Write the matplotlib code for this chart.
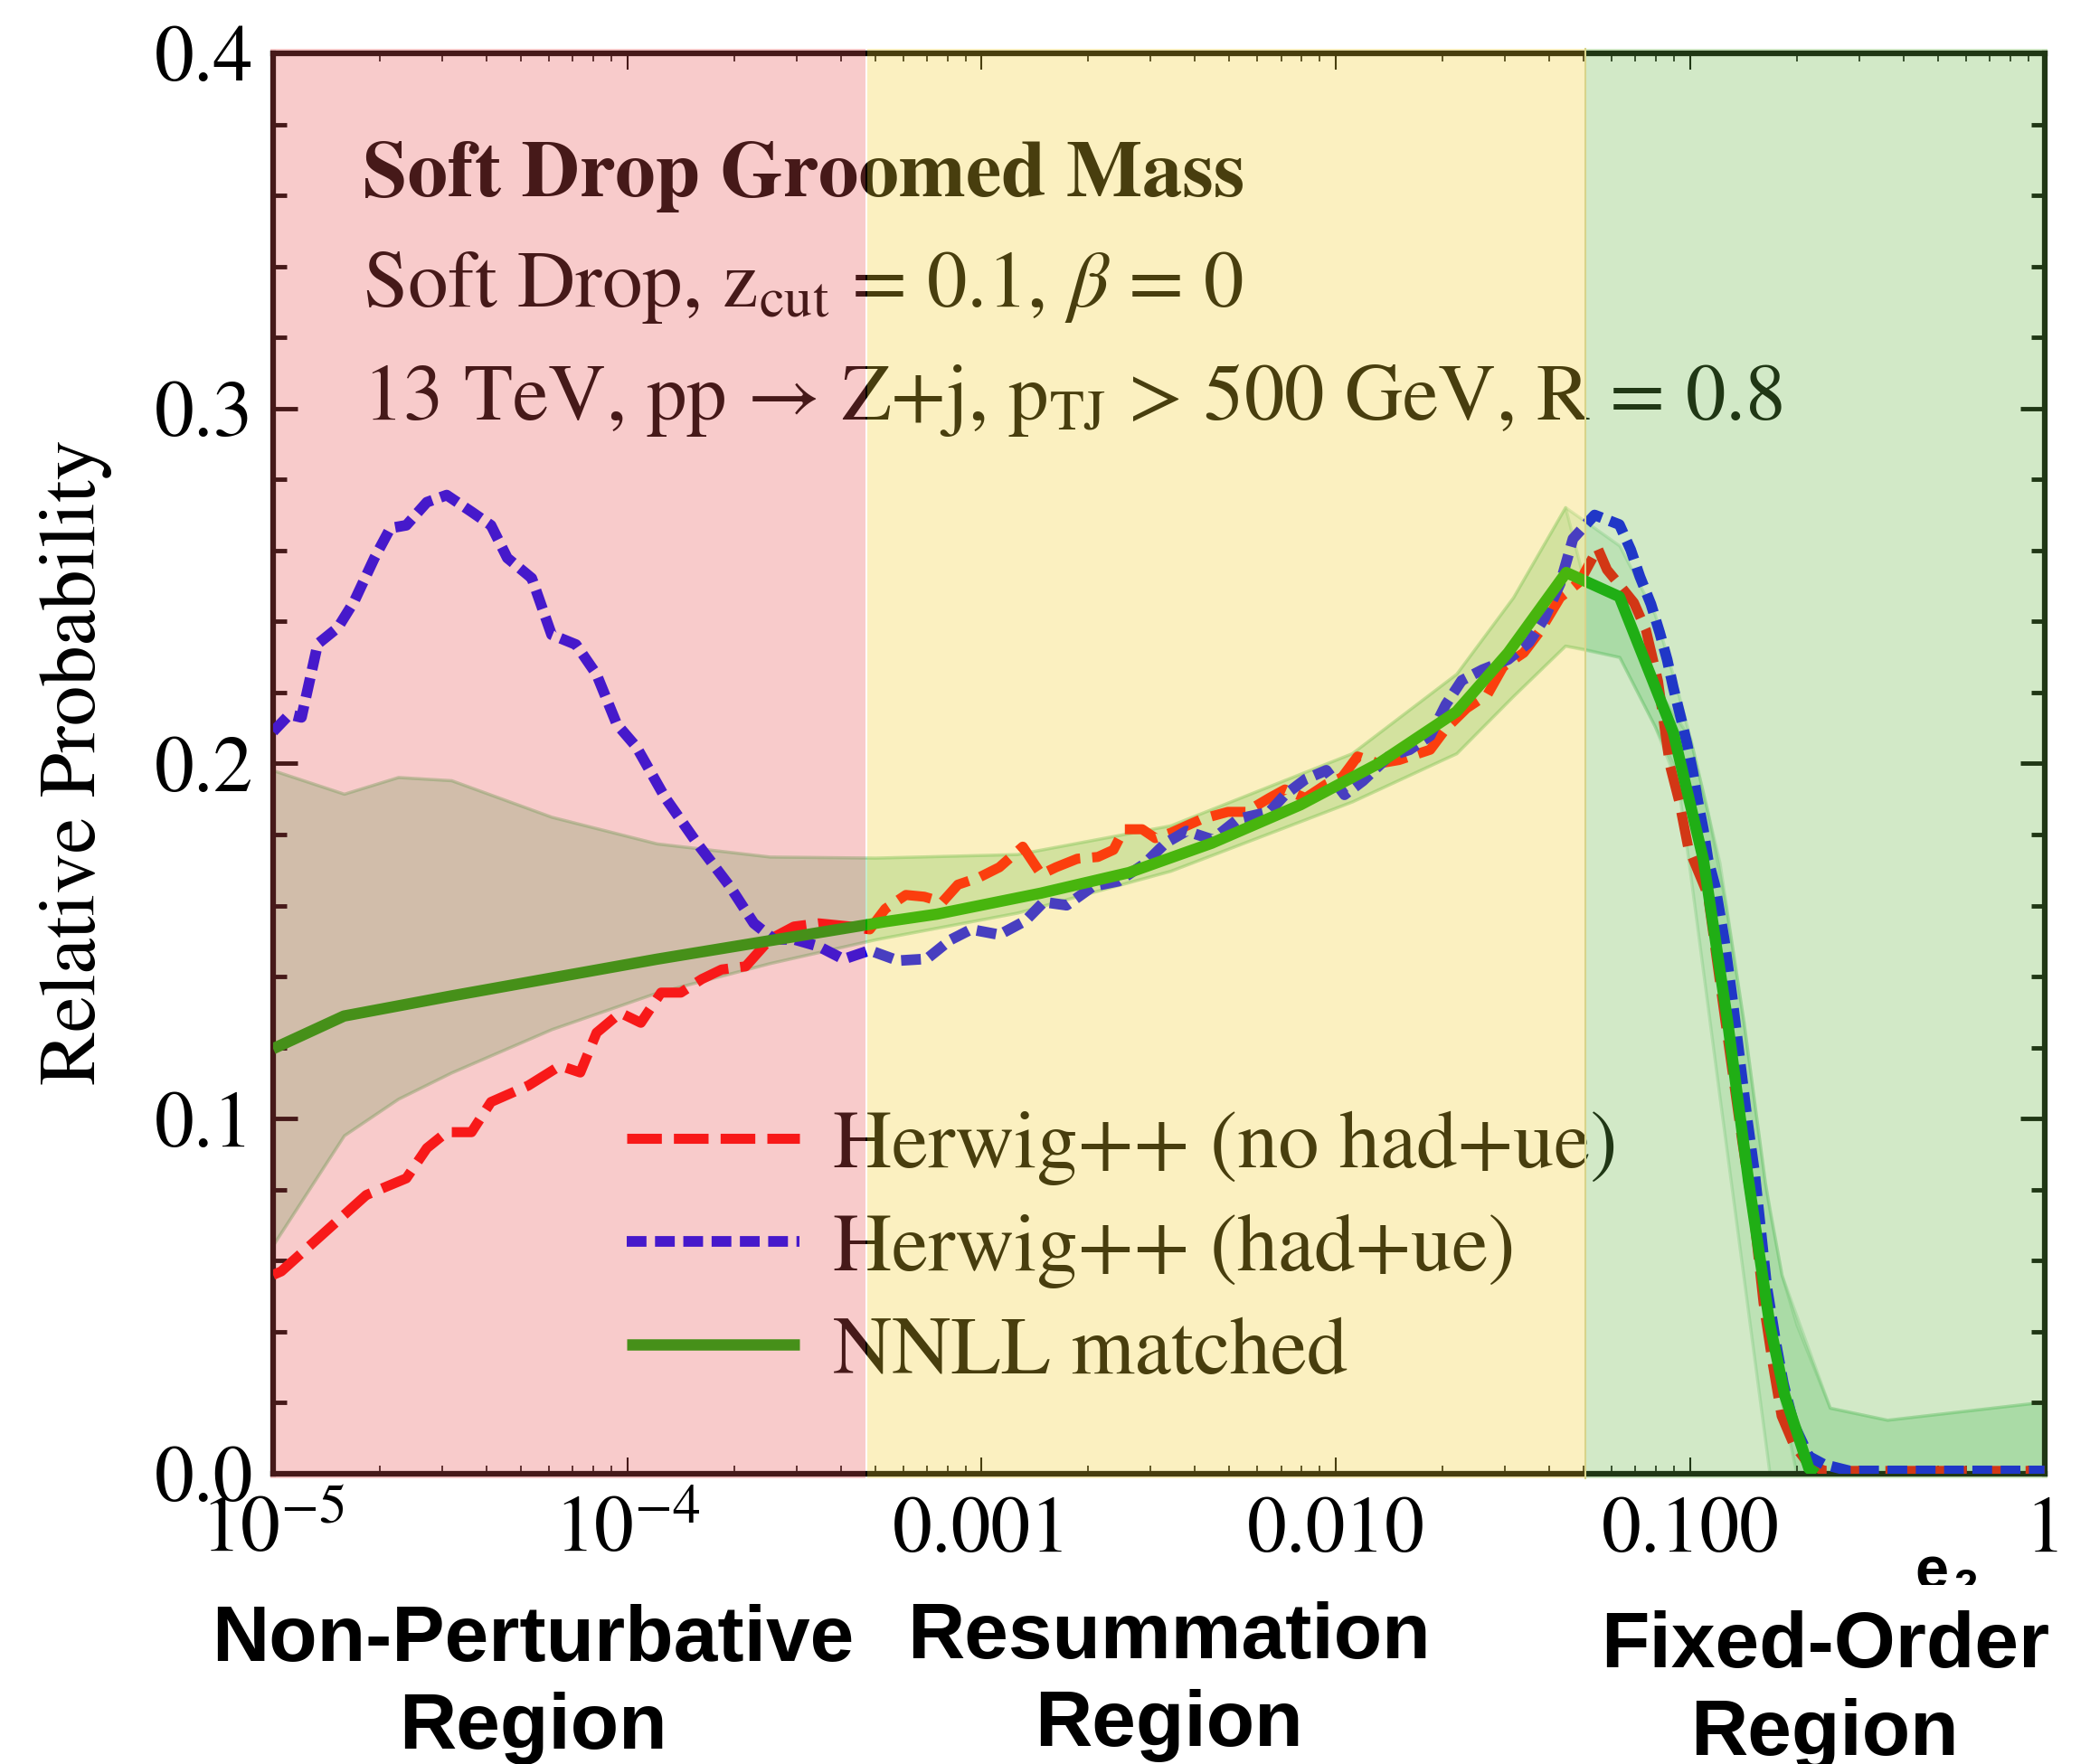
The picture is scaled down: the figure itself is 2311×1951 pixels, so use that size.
import numpy as np
import matplotlib
matplotlib.use("Agg")
import matplotlib.pyplot as plt
from matplotlib.ticker import (FixedLocator, FixedFormatter, MultipleLocator,
                               LogLocator, NullFormatter, FormatStrFormatter)

plt.rcParams['font.family'] = ['STIXGeneral', 'DejaVu Serif']
plt.rcParams['mathtext.fontset'] = 'stix'

# ---------------------------------------------------------------- data
# positions are log10(e2)
red_lx = [-5.0, -4.977, -4.862, -4.737, -4.624, -4.566, -4.51, -4.44, -4.385, -4.28,
          -4.19, -4.133, -4.087, -4.02, -3.962, -3.905, -3.849, -3.79, -3.734, -3.666,
          -3.598, -3.53, -3.46, -3.37, -3.316, -3.272, -3.214, -3.162, -3.111, -3.067,
          -3.008, -2.95, -2.884, -2.832, -2.79, -2.73, -2.672, -2.628, -2.598, -2.547,
          -2.51, -2.466, -2.378, -2.305, -2.254, -2.188, -2.144, -2.086, -2.027, -1.983,
          -1.939, -1.88, -1.822, -1.734, -1.69, -1.631, -1.572, -1.528, -1.47, -1.426,
          -1.367, -1.354, -1.312, -1.261, -1.235, -1.193, -1.159, -1.125, -1.091, -1.057,
          -1.031, -1.006, -0.95, -0.9, -0.853, -0.818, -0.793, -0.767, -0.742, -0.708,
          -0.665, -0.62, -0.55, -0.3, 0.0]
red_val = [0.056, 0.057, 0.0673, 0.0785, 0.0832, 0.0917, 0.0962, 0.0962, 0.1047, 0.1093,
           0.1149, 0.113, 0.1242, 0.1298, 0.127, 0.1355, 0.1355, 0.1393, 0.142, 0.1429,
           0.1505, 0.1541, 0.155, 0.1541, 0.1533, 0.1591, 0.163, 0.1625, 0.161, 0.1659,
           0.1679, 0.1708, 0.1766, 0.1688, 0.1708, 0.1732, 0.1737, 0.1757, 0.1815, 0.1815,
           0.179, 0.1805, 0.1844, 0.1864, 0.1864, 0.1903, 0.1927, 0.1903, 0.1942, 0.1961,
           0.202, 0.2, 0.201, 0.2039, 0.2098, 0.2156, 0.2195, 0.2273, 0.2312, 0.237,
           0.2468, 0.2478, 0.2512, 0.2606, 0.2546, 0.2495, 0.2453, 0.2376, 0.2232, 0.1994,
           0.1893, 0.1765, 0.163, 0.127, 0.0936, 0.0708, 0.0481, 0.031, 0.0163, 0.0083,
           0.0026, 0.0008, 0.0008, 0.0008, 0.0008]

blue_lx = [-5.0, -4.954, -4.92, -4.874, -4.817, -4.771, -4.714, -4.669, -4.624, -4.566,
           -4.51, -4.44, -4.385, -4.339, -4.27, -4.214, -4.145, -4.087, -4.03, -3.974,
           -3.894, -3.802, -3.71, -3.643, -3.586, -3.53, -3.46, -3.39, -3.316, -3.236,
           -3.155, -3.089, -3.03, -2.95, -2.877, -2.825, -2.76, -2.686, -2.613, -2.54,
           -2.481, -2.422, -2.349, -2.276, -2.188, -2.144, -2.086, -2.027, -1.976, -1.924,
           -1.851, -1.792, -1.734, -1.69, -1.645, -1.587, -1.514, -1.455, -1.411, -1.367,
           -1.331, -1.27, -1.2, -1.168, -1.142, -1.111, -1.086, -1.065, -1.048, -1.027,
           -1.009, -0.993, -0.98, -0.963, -0.95, -0.929, -0.904, -0.882, -0.861, -0.84,
           -0.818, -0.801, -0.784, -0.758, -0.737, -0.708, -0.665, -0.622, -0.55, -0.3, 0.0]
blue_val = [0.209, 0.2138, 0.213, 0.2337, 0.2383, 0.2457, 0.2579, 0.2663, 0.2671, 0.2736,
            0.2756, 0.2709, 0.2671, 0.2579, 0.2522, 0.2363, 0.2335, 0.2251, 0.2111, 0.2046,
            0.1905, 0.1774, 0.1653, 0.155, 0.1505, 0.1505, 0.1485, 0.1449, 0.1474, 0.1445,
            0.145, 0.1503, 0.1533, 0.1518, 0.1557, 0.161, 0.1601, 0.1654, 0.1669, 0.1718,
            0.1776, 0.181, 0.1786, 0.1844, 0.1864, 0.1912, 0.1956, 0.1981, 0.1912, 0.1951,
            0.202, 0.2039, 0.2078, 0.2166, 0.2234, 0.2264, 0.2293, 0.2341, 0.241, 0.2507,
            0.2633, 0.270, 0.2673, 0.2602, 0.2526, 0.2449, 0.2368, 0.2292, 0.2215, 0.2131,
            0.2055, 0.1978, 0.1902, 0.1815, 0.1731, 0.1652, 0.1505, 0.1345, 0.1174, 0.1004,
            0.0845, 0.0686, 0.0527, 0.0367, 0.0254, 0.014, 0.0049, 0.0026, 0.0008, 0.0008, 0.0008]

nnll_lx = [-5.0, -4.8, -4.5, -3.917, -3.27, -3.126, -2.833, -2.584, -2.35, -2.1, -1.88,
           -1.66, -1.514, -1.35, -1.2, -1.048, -0.963, -0.895, -0.835, -0.776, -0.733,
           -0.665, -0.645]
nnll_val = [0.1197, 0.1289, 0.1345, 0.1449, 0.1555, 0.1576, 0.1635, 0.1693, 0.1776, 0.1884,
            0.2, 0.2146, 0.2312, 0.2538, 0.247, 0.2088, 0.173, 0.1277, 0.0822, 0.0424,
            0.022, 0.0015, 0.0]

# scale-variation envelope of the matched NNLL prediction
band_lx = [-5.0, -4.8, -4.647, -4.497, -4.214, -3.917, -3.598, -3.3, -2.9, -2.467,
           -1.955, -1.66, -1.5, -1.353, -1.2, -1.1, -1.04, -1.0, -0.917, -0.849,
           -0.789, -0.776, -0.742, -0.606, -0.444, 0.0]
band_lo = [0.0645, 0.0953, 0.1056, 0.113, 0.1252, 0.1355, 0.1438, 0.1505, 0.158, 0.1698,
           0.1893, 0.2029, 0.219, 0.2332, 0.230, 0.2105, 0.198, 0.169, 0.106, 0.055,
           0.0098, 0.0, 0.0, 0.0, 0.0, 0.0]
band_hi = [0.1981, 0.1915, 0.1962, 0.1953, 0.185, 0.1775, 0.1738, 0.1735, 0.1745, 0.1826,
           0.2029, 0.2253, 0.2468, 0.2722, 0.2614, 0.242, 0.222, 0.207, 0.172, 0.127,
           0.082, 0.074, 0.056, 0.0186, 0.0152, 0.0203]

# second envelope, differing from the first beyond the peak
band2_lx = [-1.30, -1.2, -1.1, -1.0, -0.95, -0.9, -0.849, -0.789, -0.742, -0.70,
            -0.606, -0.444, 0.0]
band2_lo = [0.2323, 0.230, 0.2105, 0.185, 0.165, 0.128, 0.092, 0.048, 0.02, 0.0,
            0.0, 0.0, 0.0]
band2_hi = [0.2515, 0.247, 0.222, 0.207, 0.186, 0.16, 0.127, 0.082, 0.056, 0.042,
            0.0186, 0.0152, 0.0203]

region_edges = [1e-5, 4.72e-4, 0.0505, 1.0]
region_names = ["Non-Perturbative\nRegion", "Resummation\nRegion", "Fixed-Order\nRegion"]

xtick_vals = [1e-5, 1e-4, 1e-3, 1e-2, 1e-1, 1.0]
xtick_labels = [r'$10^{-5}$', r'$10^{-4}$', '0.001', '0.010', '0.100', '1']

# ---------------------------------------------------------------- figure
W, H = 2311, 1951
fig = plt.figure(figsize=(W / 100, H / 100), dpi=100, facecolor='white')
ax = fig.add_axes([302 / W, 1 - 1630 / H, (2260.7 - 302) / W, (1630 - 59) / H])

band_face = (64 / 255, 192 / 255, 96 / 255, 0.16)
band_edge = (0.25, 0.72, 0.35, 0.22)

bx = 10 ** np.array(band_lx)
ax.fill_between(bx, band_lo, band_hi, facecolor=band_face, edgecolor=band_edge,
                linewidth=2.5, zorder=1)

keep = np.array(band_lx) <= -1.353
b2x = np.concatenate([np.array(band_lx)[keep], band2_lx])
b2lo = np.concatenate([np.array(band_lo)[keep], band2_lo])
b2hi = np.concatenate([np.array(band_hi)[keep], band2_hi])
ax.fill_between(10 ** b2x, b2lo, b2hi, facecolor=band_face, edgecolor=band_edge,
                linewidth=2.5, zorder=1)

l_red, = ax.plot(10 ** np.array(red_lx), red_val, color='red', lw=8,
                 dashes=(3.45, 1.2), dash_capstyle='butt', zorder=3)
l_blue, = ax.plot(10 ** np.array(blue_lx), blue_val, color='blue', lw=8.5,
                  dashes=(1.85, 0.8), dash_capstyle='butt', zorder=3)
l_green, = ax.plot(10 ** np.array(nnll_lx), nnll_val, color='#00aa00', lw=9,
                   solid_capstyle='butt', zorder=4)

ax.set_xscale('log')
ax.set_xlim(1e-5, 1)
ax.set_ylim(0, 0.4)

ax.xaxis.set_major_locator(FixedLocator(xtick_vals))
ax.xaxis.set_major_formatter(FixedFormatter(xtick_labels))
ax.xaxis.set_minor_locator(LogLocator(base=10, subs=np.arange(2, 10), numticks=30))
ax.xaxis.set_minor_formatter(NullFormatter())
ax.yaxis.set_major_locator(MultipleLocator(0.1))
ax.yaxis.set_minor_locator(MultipleLocator(0.02))
ax.yaxis.set_major_formatter(FormatStrFormatter('%.1f'))

ax.tick_params(axis='x', which='major', direction='in', length=13, width=1.5,
               top=True, bottom=True, labelsize=63, pad=18, colors='black')
ax.tick_params(axis='x', which='minor', direction='in', length=6.5, width=1.2,
               top=True, bottom=True)
ax.tick_params(axis='y', which='major', direction='in', length=19.5, width=3.5,
               left=True, right=True, labelsize=63, pad=16)
ax.tick_params(axis='y', which='minor', direction='in', length=11, width=3.5,
               left=True, right=True)
for sp in ax.spines.values():
    sp.set_linewidth(4.5)
    sp.set_color('black')

# annotation block
tx = 0.0505
ax.text(tx, 0.8994, 'Soft Drop Groomed Mass', transform=ax.transAxes,
        fontsize=64, fontweight='bold', va='baseline', ha='left')
ax.text(tx, 0.8218, r'Soft Drop, $\mathrm{z}_{\mathrm{cut}}$ = 0.1, $\beta$ = 0',
        transform=ax.transAxes, fontsize=64, va='baseline', ha='left')
ax.text(tx, 0.7422, r'13 TeV, pp → Z+j, $\mathrm{p}_{\mathrm{TJ}}$ > 500 GeV, R = 0.8',
        transform=ax.transAxes, fontsize=64, va='baseline', ha='left')

ax.legend([l_red, l_blue, l_green],
          ['Herwig++ (no had+ue)', 'Herwig++ (had+ue)', 'NNLL matched'],
          loc='upper left', bbox_to_anchor=(0.1996, 0.256), frameon=False,
          fontsize=65, handlelength=2.12, handletextpad=0.41, labelspacing=0.34,
          borderpad=0, borderaxespad=0)

# translucent region shading laid over the whole panel
shade = [((235, 85, 85), 0.30), ((242, 208, 48), 0.30), ((108, 185, 72), 0.30)]
lo_edges = [0.98e-5, 10 ** (-3.323), region_edges[2]]
hi_edges = [10 ** (-3.328), region_edges[2], 1.02]
for (rgb, a), x0, x1 in zip(shade, lo_edges, hi_edges):
    ax.axvspan(x0, x1, ymin=-0.0035, ymax=1.0035, facecolor=np.array(rgb) / 255,
               alpha=a, edgecolor='none', clip_on=False, zorder=20)
ax.axvline(region_edges[2], ymin=-0.0035, ymax=1.0035, color='#d8d48a', lw=1.5,
           clip_on=False, zorder=21)

# labels outside the panel
fig.text(84 / W, 1 - 843 / H, 'Relative Probability', rotation=90, fontsize=64,
         ha='center', va='center')

fig.text(2117 / W, 1 - 1757 / H, 'e', family='Liberation Sans', fontweight='bold',
         fontsize=48, ha='left', va='baseline', zorder=3)
fig.text(2160 / W, 1 - 1768 / H, '2', family='Liberation Sans', fontweight='bold',
         fontsize=34, ha='left', va='baseline', zorder=3)

# baseline of the last line of each two-line label
label_pos = [(589, 1934), (1292.6, 1931), (2017.7, 1941)]
for name, (px, py) in zip(region_names, label_pos):
    kw = {}
    if name.startswith('Fixed'):
        kw['bbox'] = dict(boxstyle='square,pad=0.32', facecolor='white', edgecolor='none')
    fig.text(px / W, 1 - py / H, name, family='Liberation Sans', fontweight='bold',
             fontsize=63, ha='center', va='baseline', multialignment='center',
             linespacing=1.25, zorder=4, **kw)

fig.savefig('out.png', dpi=100, facecolor='white')
